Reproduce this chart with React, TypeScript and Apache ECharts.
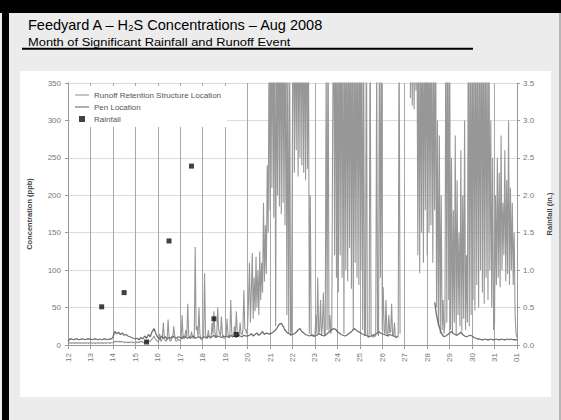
import React, { useEffect, useRef } from "react";
import * as echarts from "echarts";

// Tick labels along the x axis (days of Aug 2008, then Sep 01)
const dayLabels = ["12","13","14","15","16","17","18","19","20","21","22","23","24","25","26","27","28","29","30","31","01"];

// Runoff retention structure H2S (ppb), hourly readings from Aug 12 00:00 to Sep 01 00:00
const runoffPpb: (number | null)[] = [
  3,2,3,3,2,3,3,2,3,3,2,3,3,2,3,3,2,3,3,2,3,3,2,3, // 12
  3,3,2,3,3,2,3,3,2,3,3,2,3,3,2,3,3,2,3,3,3,2,3,3, // 13
  3,4,5,4,5,5,4,5,4,5,4,4,4,3,4,4,3,4,3,4,4,3,4,3, // 14
  3,4,3,4,3,5,4,5,4,3,3,5,6,4,4,5,5,7,8,10,12,9,7,6, // 15
  4,5,15,6,5,12,30,8,6,5,8,34,12,5,6,9,10,25,14,6,5,7,8,6, // 16
  6,8,40,10,8,12,20,9,55,14,10,8,18,12,9,10,131,20,25,10,50,15,8,7, // 17
  8,12,96,15,10,9,20,12,9,10,30,14,45,18,12,10,50,22,15,12,38,16,10,9, // 18
  9,12,35,14,12,10,60,18,10,12,25,14,45,16,11,13,30,15,14,20,73,22,20,15, // 19
  25,60,110,30,70,123,35,90,45,118,50,100,40,125,60,110,70,190,85,160,95,240,150,420, // 20
  180,460,210,480,170,500,25,450,200,470,185,490,175,470,190,460,160,480,40,420,15,380,12,20, // 21
  300,470,230,480,260,490,225,460,250,500,240,490,230,470,220,480,235,450,15,200,12,14,13,12, // 22
  12,40,15,90,14,20,60,12,25,70,15,12,380,20,470,18,40,15,22,300,480,120,500,90, // 23
  500,70,480,120,510,90,470,15,490,100,500,85,460,130,490,75,500,20,480,110,470,90,500,80, // 24
  480,100,460,20,430,12,15,470,14,10,12,470,15,12,10,14,11,13,380,20,12,440,90,400, // 25
  20,77,18,15,60,14,12,40,16,18,55,13,12,30,11,10,12,10,430,15,null,null,null,null, // 26
  null,null,null,null,null,null,330,470,320,480,315,460,340,470,120,460,96,450,150,480,110,470,180,490, // 27
  120,470,150,450,160,480,110,400,180,460,50,300,25,280,15,200,20,60,15,30,480,30,470,60, // 28
  440,20,250,15,180,30,280,12,220,40,150,25,260,18,200,35,300,20,120,30,480,25,460,40, // 29
  470,60,480,46,450,80,490,50,430,100,500,70,460,55,480,90,440,60,470,100,300,50,250,20, // 30
  30,200,80,250,90,230,77,280,100,190,120,260,85,220,95,300,80,210,100,190,80,150,40,15, // 31
  10,
];

// Pen location H2S (ppb), one reading every 2 hours from Aug 12 00:00 to Sep 01 00:00
const penPpb: (number | null)[] = [
  5,8,8,7,8,8,7,8,8,7,8,8, // 12
  8,7,8,8,7,8,7,8,8,7,8,8, // 13
  10,18,15,17,14,16,13,14,12,11,10,9, // 14
  8,9,7,10,8,12,9,14,11,18,22,15, // 15
  10,8,12,9,11,8,10,9,12,10,9,11, // 16
  10,9,12,10,9,11,10,12,9,10,11,9, // 17
  10,11,9,12,10,11,13,10,12,11,10,12, // 18
  11,12,10,13,11,12,10,14,12,11,13,12, // 19
  12,13,15,12,14,16,13,15,18,14,16,15, // 20
  15,16,18,20,24,28,29,25,20,17,15,14, // 21
  14,15,17,20,22,18,16,14,13,12,13,12, // 22
  12,13,15,14,13,12,14,16,18,20,22,21, // 23
  18,16,14,13,12,13,15,17,19,22,20,18, // 24
  17,15,14,13,12,11,12,13,14,15,18,16, // 25
  15,14,13,12,14,13,12,11,10,null,null,null, // 26
  null,null,null,null,null,null,null,null,null,null,null,null, // 27
  null,null,null,null,57,40,28,20,14,11,12,14, // 28
  16,18,15,14,13,15,17,14,12,11,12,13, // 29
  12,10,9,8,8,7,7,8,7,7,8,7, // 30
  7,8,7,7,8,7,7,8,7,8,7,7, // 31
  7,
];

// Daily rainfall (in.), plotted at noon of each day
const rainfallDay = [13.5, 14.5, 15.5, 16.5, 17.5, 18.5, 19.5];
const rainfallIn = [0.51, 0.70, 0.04, 1.39, 2.39, 0.35, 0.14];

const START_DAY = 12;

export default function App() {
  const ref = useRef<HTMLDivElement>(null);

  useEffect(() => {
    if (!ref.current) return;
    const chart = echarts.init(ref.current, undefined, { renderer: "svg" });
    const font = "'Liberation Sans', Arial, sans-serif";
    const toXY = (arr: (number | null)[], perDay: number) => arr.map((v, i) => [i / perDay, v]);
    const lineIcon = "path://M0,0h20v1.6h-20z";

    chart.setOption({
      animation: false,
      backgroundColor: "#ececec",
      textStyle: { fontFamily: font },
      graphic: [
        { type: "rect", z: -10, shape: { x: 0, y: 0, width: 561, height: 13 }, style: { fill: "#000" } },
        { type: "rect", z: -10, shape: { x: 2, y: 0, width: 7, height: 420 }, style: { fill: "#000" } },
        { type: "rect", z: -10, shape: { x: 559, y: 13, width: 2, height: 407 }, style: { fill: "#b5b5b5" } },
        { type: "rect", z: -10, shape: { x: 20, y: 71, width: 531, height: 326 }, style: { fill: "#fff" } },
        {
          type: "text", z: 5, x: 28, y: 25,
          style: { text: "Feedyard A – H₂S Concentrations – Aug 2008", font: `14.5px ${font}`, fill: "#000", verticalAlign: "middle" },
        },
        {
          type: "text", z: 5, x: 28, y: 42.3, scaleX: 1.14,
          style: { text: "Month of Significant Rainfall and Runoff Event", font: `11.3px ${font}`, fill: "#000", verticalAlign: "middle" },
        },
        { type: "line", z: 5, shape: { x1: 22, y1: 48.7, x2: 473, y2: 48.7 }, style: { stroke: "#000", lineWidth: 2 } },
      ],
      grid: { left: 68, right: 43, top: 83, bottom: 75, containLabel: false },
      legend: {
        left: 70, top: 86, orient: "vertical",
        backgroundColor: "#fff", padding: [5, 6, 4, 5], itemGap: 4,
        itemWidth: 14, itemHeight: 6, symbolKeepAspect: true,
        textStyle: { fontSize: 8, color: "#555", fontFamily: font },
        data: [
          { name: "Runoff Retention Structure Location", icon: lineIcon },
          { name: "Pen Location", icon: lineIcon },
          { name: "Rainfall", icon: "path://M0,0h10v10h-10z" },
        ],
      },
      xAxis: {
        type: "value", min: 0, max: 20, interval: 1,
        axisLine: { show: true, onZero: false, lineStyle: { color: "#999" } },
        axisTick: { show: true, length: 4, lineStyle: { color: "#999" } },
        axisLabel: {
          rotate: 90, fontSize: 8, color: "#777", margin: 8,
          formatter: (v: number) => dayLabels[Math.round(v)] ?? "",
        },
        splitLine: { show: true, lineStyle: { color: "#a8a8a8", width: 1 } },
      },
      yAxis: [
        {
          type: "value", min: 0, max: 350, interval: 50,
          name: "Concentration (ppb)", nameLocation: "middle", nameGap: 35,
          nameTextStyle: { fontSize: 7.5, fontWeight: "bold", color: "#444" },
          axisLine: { show: true, lineStyle: { color: "#999" } },
          axisTick: { show: true, length: 3, lineStyle: { color: "#999" } },
          axisLabel: { fontSize: 8, color: "#777", margin: 7 },
          splitLine: { show: true, lineStyle: { color: "#dcdcdc" } },
        },
        {
          type: "value", min: 0, max: 3.5, interval: 0.5, position: "right",
          name: "Rainfall (in.)", nameLocation: "middle", nameGap: 19,
          nameTextStyle: { fontSize: 7.5, fontWeight: "bold", color: "#444" },
          axisLine: { show: true, lineStyle: { color: "#999" } },
          axisTick: { show: true, length: 3, lineStyle: { color: "#999" } },
          axisLabel: { fontSize: 8, color: "#777", margin: 6, formatter: (v: number) => v.toFixed(1) },
          splitLine: { show: false },
        },
      ],
      series: [
        {
          name: "Runoff Retention Structure Location", type: "line", yAxisIndex: 0,
          data: toXY(runoffPpb, 24), symbol: "none", showSymbol: false, connectNulls: false, clip: true,
          lineStyle: { color: "#979797", width: 1.1 }, itemStyle: { color: "#979797" },
        },
        {
          name: "Pen Location", type: "line", yAxisIndex: 0,
          data: toXY(penPpb, 12), symbol: "none", showSymbol: false, connectNulls: false, clip: true,
          lineStyle: { color: "#707070", width: 1.3 }, itemStyle: { color: "#707070" },
        },
        {
          name: "Rainfall", type: "scatter", yAxisIndex: 1,
          data: rainfallDay.map((d, i) => [d - START_DAY, rainfallIn[i]]),
          symbol: "rect", symbolSize: 5, itemStyle: { color: "#111" }, z: 5,
        },
      ],
    });
    return () => chart.dispose();
  }, []);

  return <div ref={ref} style={{ position: "fixed", left: 0, top: 0, width: 561, height: 420 }} />;
}
